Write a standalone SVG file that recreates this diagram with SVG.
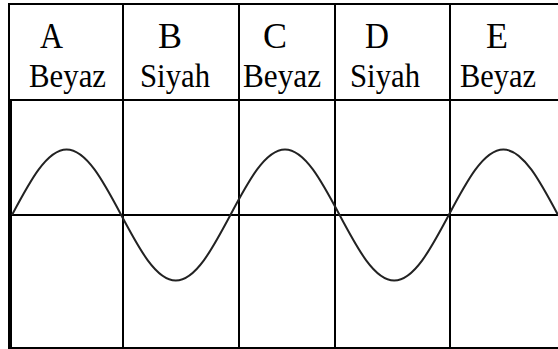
<svg xmlns="http://www.w3.org/2000/svg" width="558" height="349" viewBox="0 0 558 349">
<style>
.g{stroke:#000;stroke-width:2;fill:none}
.t{font-family:'Liberation Serif','DejaVu Serif',serif;fill:#000}
.big{font-size:36px}
.sm{font-size:33px}
.w{stroke:#222;stroke-width:2;fill:none}
</style>
<rect width="558" height="349" fill="#fff"/>
<g id="grid">
<line class="g" x1="8" y1="4" x2="558" y2="4"/>
<line class="g" x1="8" y1="100" x2="558" y2="100"/>
<line class="g" x1="8" y1="348" x2="558" y2="348"/>
<line class="g" x1="9" y1="3" x2="9" y2="100"/>
<rect x="8" y="100" width="4" height="249" fill="#000"/>
<line class="g" x1="123" y1="3" x2="123" y2="349"/>
<line class="g" x1="239" y1="3" x2="239" y2="349"/>
<line class="g" x1="335" y1="3" x2="335" y2="349"/>
<line class="g" x1="450" y1="3" x2="450" y2="349"/>
<line class="g" x1="8" y1="215" x2="558" y2="215"/>
</g>
<g id="colA"><text class="t big" x="40" y="48" textLength="23" lengthAdjust="spacingAndGlyphs">A</text><text class="t sm" x="29" y="87" textLength="77" lengthAdjust="spacingAndGlyphs">Beyaz</text></g>
<g id="colB"><text class="t big" x="158" y="48" textLength="24" lengthAdjust="spacingAndGlyphs">B</text><text class="t sm" x="140" y="87" textLength="70" lengthAdjust="spacingAndGlyphs">Siyah</text></g>
<g id="colC"><text class="t big" x="263" y="48" textLength="24" lengthAdjust="spacingAndGlyphs">C</text><text class="t sm" x="243" y="87" textLength="78" lengthAdjust="spacingAndGlyphs">Beyaz</text></g>
<g id="colD"><text class="t big" x="365" y="48" textLength="24" lengthAdjust="spacingAndGlyphs">D</text><text class="t sm" x="350" y="87" textLength="70" lengthAdjust="spacingAndGlyphs">Siyah</text></g>
<g id="colE"><text class="t big" x="486" y="48" textLength="22" lengthAdjust="spacingAndGlyphs">E</text><text class="t sm" x="460" y="87" textLength="76" lengthAdjust="spacingAndGlyphs">Beyaz</text></g>
<g id="wave">
<path class="w" d="M12,215 c17.81,-33.55 34.84,-65.5 54.6,-65.5 s36.79,31.95 54.6,65.5 s34.84,65.5 54.6,65.5 s36.79,-31.95 54.6,-65.5 s34.84,-65.5 54.6,-65.5 s36.79,31.95 54.6,65.5 s34.84,65.5 54.6,65.5 s36.79,-31.95 54.6,-65.5 s34.84,-65.5 54.6,-65.5 s36.79,31.95 54.6,65.5"/>
</g>
</svg>
